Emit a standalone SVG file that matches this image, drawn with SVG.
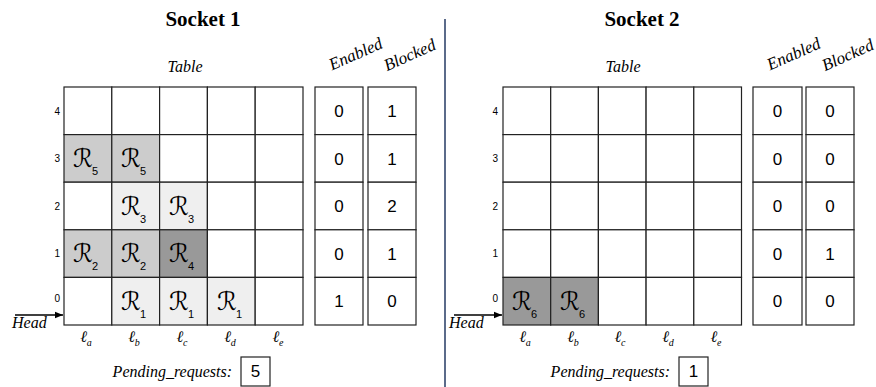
<svg xmlns="http://www.w3.org/2000/svg" width="876" height="387" viewBox="0 0 876 387">
<defs>
<marker id="arr" viewBox="0 0 10 10" refX="10" refY="5" markerWidth="8" markerHeight="8" markerUnits="userSpaceOnUse" orient="auto">
<path d="M0,1 L10,5 L0,9 z" fill="#000"/>
</marker>
</defs>
<style>
.cell{stroke:#222;stroke-width:1.2;fill:#fff}
.l{fill:#cccccc}.vl{fill:#efefef}.d{fill:#999999}
.title{font-family:"Liberation Serif",serif;font-weight:bold;font-size:21px;text-anchor:middle}
.it{font-family:"Liberation Serif","Times New Roman",serif;font-style:italic;font-size:16px}
.rot{font-family:"Liberation Serif",serif;font-style:italic;font-size:17px;text-anchor:middle}
.num{font-family:"Liberation Sans",Arial,sans-serif;font-size:17px;text-anchor:middle}
.rl{font-family:"Liberation Sans",Arial,sans-serif;font-size:10px;text-anchor:end}
.R{font-family:"DejaVu Serif","DejaVu Sans",serif;font-style:italic;font-size:25px;text-anchor:middle}
.sub{font-family:"Liberation Sans",Arial,sans-serif;font-size:11px}
.ell{font-family:"Liberation Serif",serif;font-style:italic;font-size:16px;text-anchor:middle}
.es{font-family:"Liberation Serif",serif;font-style:italic;font-size:10px}
</style>
<line x1="445" y1="19" x2="445" y2="387" stroke="#5b6b8a" stroke-width="2"/>

<g id="socket1">
<text class="title" x="203" y="26">Socket 1</text>
<text class="it" x="185" y="72" text-anchor="middle">Table</text>
<text class="rot" transform="translate(358,59) rotate(-24)">Enabled</text>
<text class="rot" transform="translate(412,60) rotate(-24)">Blocked</text>
<g id="s1-table">
<rect class="cell" x="64" y="87" width="47.8" height="47.6"/>
<rect class="cell" x="111.8" y="87" width="47.8" height="47.6"/>
<rect class="cell" x="159.6" y="87" width="47.8" height="47.6"/>
<rect class="cell" x="207.4" y="87" width="47.8" height="47.6"/>
<rect class="cell" x="255.2" y="87" width="47.8" height="47.6"/>
<rect class="cell l" x="64" y="134.6" width="47.8" height="47.6"/>
<rect class="cell l" x="111.8" y="134.6" width="47.8" height="47.6"/>
<rect class="cell" x="159.6" y="134.6" width="47.8" height="47.6"/>
<rect class="cell" x="207.4" y="134.6" width="47.8" height="47.6"/>
<rect class="cell" x="255.2" y="134.6" width="47.8" height="47.6"/>
<rect class="cell" x="64" y="182.2" width="47.8" height="47.6"/>
<rect class="cell vl" x="111.8" y="182.2" width="47.8" height="47.6"/>
<rect class="cell vl" x="159.6" y="182.2" width="47.8" height="47.6"/>
<rect class="cell" x="207.4" y="182.2" width="47.8" height="47.6"/>
<rect class="cell" x="255.2" y="182.2" width="47.8" height="47.6"/>
<rect class="cell l" x="64" y="229.8" width="47.8" height="47.6"/>
<rect class="cell l" x="111.8" y="229.8" width="47.8" height="47.6"/>
<rect class="cell d" x="159.6" y="229.8" width="47.8" height="47.6"/>
<rect class="cell" x="207.4" y="229.8" width="47.8" height="47.6"/>
<rect class="cell" x="255.2" y="229.8" width="47.8" height="47.6"/>
<rect class="cell" x="64" y="277.4" width="47.8" height="47.6"/>
<rect class="cell vl" x="111.8" y="277.4" width="47.8" height="47.6"/>
<rect class="cell vl" x="159.6" y="277.4" width="47.8" height="47.6"/>
<rect class="cell vl" x="207.4" y="277.4" width="47.8" height="47.6"/>
<rect class="cell" x="255.2" y="277.4" width="47.8" height="47.6"/>
</g>
<g id="s1-requests">
<text class="R" x="83" y="167">ℛ</text><text class="sub" x="92" y="175">5</text>
<text class="R" x="131" y="167">ℛ</text><text class="sub" x="140" y="175">5</text>
<text class="R" x="131" y="214.6">ℛ</text><text class="sub" x="140" y="222.6">3</text>
<text class="R" x="179" y="214.6">ℛ</text><text class="sub" x="188" y="222.6">3</text>
<text class="R" x="83" y="262.2">ℛ</text><text class="sub" x="92" y="270.2">2</text>
<text class="R" x="131" y="262.2">ℛ</text><text class="sub" x="140" y="270.2">2</text>
<text class="R" x="179" y="262.2">ℛ</text><text class="sub" x="188" y="270.2">4</text>
<text class="R" x="131" y="309.8">ℛ</text><text class="sub" x="140" y="317.8">1</text>
<text class="R" x="179" y="309.8">ℛ</text><text class="sub" x="188" y="317.8">1</text>
<text class="R" x="227" y="309.8">ℛ</text><text class="sub" x="236" y="317.8">1</text>
</g>
<g id="s1-rows">
<text class="rl" x="60" y="115">4</text>
<text class="rl" x="60" y="162">3</text>
<text class="rl" x="60" y="210">2</text>
<text class="rl" x="60" y="257">1</text>
<text class="rl" x="60" y="302">0</text>
</g>
<g id="s1-enabled">
<rect class="cell" x="315" y="87" width="48" height="47.6"/>
<rect class="cell" x="315" y="134.6" width="48" height="47.6"/>
<rect class="cell" x="315" y="182.2" width="48" height="47.6"/>
<rect class="cell" x="315" y="229.8" width="48" height="47.6"/>
<rect class="cell" x="315" y="277.4" width="48" height="47.6"/>
<text class="num" x="339" y="117">0</text>
<text class="num" x="339" y="164.6">0</text>
<text class="num" x="339" y="212.2">0</text>
<text class="num" x="339" y="259.8">0</text>
<text class="num" x="339" y="307.4">1</text>
</g>
<g id="s1-blocked">
<rect class="cell" x="368" y="87" width="48" height="47.6"/>
<rect class="cell" x="368" y="134.6" width="48" height="47.6"/>
<rect class="cell" x="368" y="182.2" width="48" height="47.6"/>
<rect class="cell" x="368" y="229.8" width="48" height="47.6"/>
<rect class="cell" x="368" y="277.4" width="48" height="47.6"/>
<text class="num" x="392" y="117">1</text>
<text class="num" x="392" y="164.6">1</text>
<text class="num" x="392" y="212.2">2</text>
<text class="num" x="392" y="259.8">1</text>
<text class="num" x="392" y="307.4">0</text>
</g>
<g id="s1-cols">
<text class="ell" x="86" y="342">ℓ<tspan class="es" dy="4">a</tspan></text>
<text class="ell" x="134" y="342">ℓ<tspan class="es" dy="4">b</tspan></text>
<text class="ell" x="182" y="342">ℓ<tspan class="es" dy="4">c</tspan></text>
<text class="ell" x="230" y="342">ℓ<tspan class="es" dy="4">d</tspan></text>
<text class="ell" x="278" y="342">ℓ<tspan class="es" dy="4">e</tspan></text>
</g>
<g id="s1-head">
<text class="it" x="12" y="328">Head</text>
</g>
<g id="s1-pending">
<text class="it" x="232" y="377" text-anchor="end">Pending_requests:</text>
<rect class="cell" x="241" y="357" width="29" height="29"/>
<text class="num" x="255.5" y="377">5</text>
</g>
</g>

<g id="socket2">
<text class="title" x="642" y="26">Socket 2</text>
<text class="it" x="623" y="72" text-anchor="middle">Table</text>
<text class="rot" transform="translate(796,59) rotate(-24)">Enabled</text>
<text class="rot" transform="translate(850,60) rotate(-24)">Blocked</text>
<g id="s2-table">
<rect class="cell" x="503" y="87" width="47.7" height="47.6"/>
<rect class="cell" x="550.7" y="87" width="47.7" height="47.6"/>
<rect class="cell" x="598.4" y="87" width="47.7" height="47.6"/>
<rect class="cell" x="646.1" y="87" width="47.7" height="47.6"/>
<rect class="cell" x="693.8" y="87" width="47.7" height="47.6"/>
<rect class="cell" x="503" y="134.6" width="47.7" height="47.6"/>
<rect class="cell" x="550.7" y="134.6" width="47.7" height="47.6"/>
<rect class="cell" x="598.4" y="134.6" width="47.7" height="47.6"/>
<rect class="cell" x="646.1" y="134.6" width="47.7" height="47.6"/>
<rect class="cell" x="693.8" y="134.6" width="47.7" height="47.6"/>
<rect class="cell" x="503" y="182.2" width="47.7" height="47.6"/>
<rect class="cell" x="550.7" y="182.2" width="47.7" height="47.6"/>
<rect class="cell" x="598.4" y="182.2" width="47.7" height="47.6"/>
<rect class="cell" x="646.1" y="182.2" width="47.7" height="47.6"/>
<rect class="cell" x="693.8" y="182.2" width="47.7" height="47.6"/>
<rect class="cell" x="503" y="229.8" width="47.7" height="47.6"/>
<rect class="cell" x="550.7" y="229.8" width="47.7" height="47.6"/>
<rect class="cell" x="598.4" y="229.8" width="47.7" height="47.6"/>
<rect class="cell" x="646.1" y="229.8" width="47.7" height="47.6"/>
<rect class="cell" x="693.8" y="229.8" width="47.7" height="47.6"/>
<rect class="cell d" x="503" y="277.4" width="47.7" height="47.6"/>
<rect class="cell d" x="550.7" y="277.4" width="47.7" height="47.6"/>
<rect class="cell" x="598.4" y="277.4" width="47.7" height="47.6"/>
<rect class="cell" x="646.1" y="277.4" width="47.7" height="47.6"/>
<rect class="cell" x="693.8" y="277.4" width="47.7" height="47.6"/>
</g>
<g id="s2-requests">
<text class="R" x="522" y="309.8">ℛ</text><text class="sub" x="531" y="317.8">6</text>
<text class="R" x="570" y="309.8">ℛ</text><text class="sub" x="579" y="317.8">6</text>
</g>
<g id="s2-rows">
<text class="rl" x="498" y="115">4</text>
<text class="rl" x="498" y="162">3</text>
<text class="rl" x="498" y="210">2</text>
<text class="rl" x="498" y="257">1</text>
<text class="rl" x="498" y="302">0</text>
</g>
<g id="s2-enabled">
<rect class="cell" x="753" y="87" width="49" height="47.6"/>
<rect class="cell" x="753" y="134.6" width="49" height="47.6"/>
<rect class="cell" x="753" y="182.2" width="49" height="47.6"/>
<rect class="cell" x="753" y="229.8" width="49" height="47.6"/>
<rect class="cell" x="753" y="277.4" width="49" height="47.6"/>
<text class="num" x="777.5" y="117">0</text>
<text class="num" x="777.5" y="164.6">0</text>
<text class="num" x="777.5" y="212.2">0</text>
<text class="num" x="777.5" y="259.8">0</text>
<text class="num" x="777.5" y="307.4">0</text>
</g>
<g id="s2-blocked">
<rect class="cell" x="806" y="87" width="48" height="47.6"/>
<rect class="cell" x="806" y="134.6" width="48" height="47.6"/>
<rect class="cell" x="806" y="182.2" width="48" height="47.6"/>
<rect class="cell" x="806" y="229.8" width="48" height="47.6"/>
<rect class="cell" x="806" y="277.4" width="48" height="47.6"/>
<text class="num" x="830" y="117">0</text>
<text class="num" x="830" y="164.6">0</text>
<text class="num" x="830" y="212.2">0</text>
<text class="num" x="830" y="259.8">1</text>
<text class="num" x="830" y="307.4">0</text>
</g>
<g id="s2-cols">
<text class="ell" x="525" y="342">ℓ<tspan class="es" dy="4">a</tspan></text>
<text class="ell" x="573" y="342">ℓ<tspan class="es" dy="4">b</tspan></text>
<text class="ell" x="620" y="342">ℓ<tspan class="es" dy="4">c</tspan></text>
<text class="ell" x="668" y="342">ℓ<tspan class="es" dy="4">d</tspan></text>
<text class="ell" x="716" y="342">ℓ<tspan class="es" dy="4">e</tspan></text>
</g>
<g id="s2-head">
<text class="it" x="449" y="328">Head</text>
</g>
<g id="s2-pending">
<text class="it" x="670" y="377" text-anchor="end">Pending_requests:</text>
<rect class="cell" x="679" y="357" width="29" height="29"/>
<text class="num" x="693.5" y="377">1</text>
</g>
</g>

<g id="connectors">
<line x1="15" y1="315" x2="63" y2="315" stroke="#000" stroke-width="1.5" marker-end="url(#arr)"/>
<line x1="454" y1="315" x2="502" y2="315" stroke="#000" stroke-width="1.5" marker-end="url(#arr)"/>
</g>
</svg>
